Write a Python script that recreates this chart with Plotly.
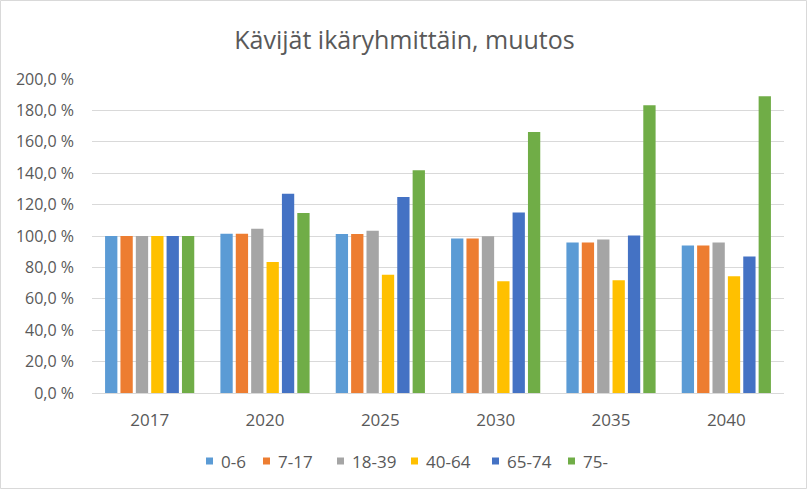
import plotly.graph_objects as go

years = ["2017", "2020", "2025", "2030", "2035", "2040"]
series_names = ["0-6", "7-17", "18-39", "40-64", "65-74", "75-"]
v_0_6 = [100.0, 101.5, 101.3, 98.4, 95.9, 94.0]
v_7_17 = [100.0, 101.5, 101.3, 98.4, 95.9, 94.0]
v_18_39 = [100.0, 104.6, 103.4, 99.9, 97.8, 95.9]
v_40_64 = [100.0, 83.5, 75.3, 71.2, 71.8, 74.3]
v_65_74 = [100.0, 126.9, 124.9, 114.9, 100.3, 87.0]
v_75 = [100.0, 114.7, 141.8, 166.2, 183.3, 189.0]
all_values = [v_0_6, v_7_17, v_18_39, v_40_64, v_65_74, v_75]
colors = ["#5B9BD5", "#ED7D31", "#A5A5A5", "#FFC000", "#4472C4", "#70AD47"]
y_ticks = [0, 20, 40, 60, 80, 100, 120, 140, 160, 180, 200]
y_tick_text = [f"{v:.1f}".replace(".", ",") + " %" for v in y_ticks]

FONT = "Open Sans, Lato, sans-serif"
TXT = "#595959"

fig = go.Figure()
for name, vals, col in zip(series_names, all_values, colors):
    fig.add_trace(go.Bar(x=years, y=vals, name=name, showlegend=False,
                         marker=dict(color=col, line=dict(width=0))))

W, H = 809, 490
ml, mr, mt, mb = 92, 25, 79, 97
pw, ph = W - ml - mr, H - mt - mb

def px_x(p):
    return (p - ml) / pw

def px_y(p):
    return (H - mb - p) / ph

# custom legend (square + label), positioned like the reference
legend_sq_x = [206, 263, 337, 411, 492, 568]
legend_y = 461
shapes = [dict(type="rect", xref="paper", yref="paper",
               x0=px_x(0.5), x1=px_x(W - 2.5), y0=px_y(H - 1.5), y1=px_y(0.5),
               line=dict(color="#D9D9D9", width=1), fillcolor="rgba(0,0,0,0)", layer="below")]
annotations = []
for name, col, sx in zip(series_names, colors, legend_sq_x):
    shapes.append(dict(type="rect", xref="paper", yref="paper",
                       x0=px_x(sx), x1=px_x(sx + 7), y0=px_y(legend_y + 3.5), y1=px_y(legend_y - 3.5),
                       line=dict(width=0), fillcolor=col))
    annotations.append(dict(xref="paper", yref="paper", x=px_x(sx + 13), y=px_y(legend_y),
                            xanchor="left", yanchor="middle", showarrow=False, text=name,
                            font=dict(family=FONT, size=17, color=TXT)))

fig.update_layout(
    width=W, height=H,
    margin=dict(l=ml, r=mr, t=mt, b=mb),
    paper_bgcolor="white", plot_bgcolor="white",
    font=dict(family=FONT, color=TXT, size=16),
    title=dict(text="Kävijät ikäryhmittäin, muutos", x=0.5, xanchor="center",
               y=1 - 40 / H, yanchor="middle", font=dict(size=25, color=TXT)),
    barmode="group", bargap=0.2, bargroupgap=0.2,
    xaxis=dict(showgrid=False, showline=True, linecolor="#D9D9D9", linewidth=1,
               ticks="", tickfont=dict(size=17, color=TXT), ticklabelstandoff=12),
    yaxis=dict(range=[0, 200], tickvals=y_ticks, tickmode="array", ticktext=y_tick_text,
               showgrid=True, gridcolor="#D9D9D9", gridwidth=1, zeroline=False,
               showline=False, ticks="", tickfont=dict(size=16, color=TXT), ticklabelstandoff=17),
    shapes=shapes,
    annotations=annotations,
)

fig.write_html("out.html")
